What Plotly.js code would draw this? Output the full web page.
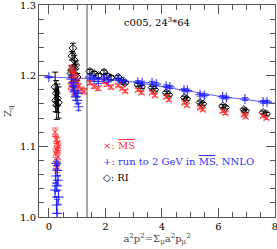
<!DOCTYPE html>
<html><head><meta charset="utf-8">
<script src="https://cdn.plot.ly/plotly-3.0.1.min.js"></script>
<style>body{margin:0;background:#fff}</style>
</head><body><div id="plot" style="width:277px;height:249px"></div>
<script>
// RI (black diamonds)
var riX = [0.22,0.26,0.30,0.34,0.28,0.24,
  0.80,0.85,0.90,0.95,0.78,1.00,0.88,0.82,0.92,
  1.45,1.60,1.75,1.95,2.05,2.20,2.45,2.60,2.70,3.15,3.28,3.65,3.75,4.15,4.25,4.80,4.88,5.35,5.45,6.15,6.25,6.90,6.96,7.58,7.70];
var riY = [1.184,1.175,1.168,1.162,1.158,1.165,
  1.208,1.239,1.222,1.215,1.203,1.198,1.190,1.228,1.210,
  1.206,1.203,1.200,1.205,1.200,1.197,1.198,1.192,1.190,1.187,1.184,1.183,1.180,1.176,1.173,1.169,1.167,1.162,1.160,1.157,1.155,1.152,1.150,1.148,1.146];
var riErr = [0.021,0.018,0.02,0.022,0.02,0.016,
  0.006,0.007,0.007,0.006,0.005,0.005,0.005,0.006,0.006,
  0.003,0.003,0.003,0.003,0.003,0.003,0.002,0.002,0.002,0.002,0.002,0.002,0.002,0.002,0.002,0.002,0.002,0.002,0.002,0.002,0.002,0.002,0.002,0.002,0.002];

// MS-bar (red crosses)
var msX = [0.22,0.26,0.30,0.34,0.28,0.24,0.32,0.27,0.29,
  0.80,0.85,0.90,0.95,1.00,0.78,0.88,0.92,1.05,0.83,1.15,1.25,
  1.45,1.60,1.75,1.95,2.05,2.20,2.45,2.60,2.70,3.15,3.28,3.65,3.75,4.15,4.25,4.80,4.88,5.35,5.45,6.15,6.25,6.90,6.96,7.58,7.70];
var msY = [1.120,1.110,1.105,1.100,1.095,1.090,1.085,1.075,1.070,
  1.210,1.205,1.200,1.195,1.190,1.185,1.180,1.175,1.185,1.195,1.180,1.178,
  1.190,1.185,1.182,1.192,1.188,1.184,1.186,1.182,1.178,1.180,1.176,1.176,1.172,1.170,1.166,1.162,1.158,1.155,1.152,1.150,1.147,1.145,1.142,1.143,1.140];
var msErr = [0.006,0.006,0.007,0.006,0.005,0.006,0.007,0.006,0.007,
  0.005,0.005,0.005,0.005,0.005,0.005,0.004,0.004,0.004,0.004,0.004,0.004,
  0.003,0.003,0.003,0.003,0.003,0.003,0.002,0.002,0.002,0.002,0.002,0.002,0.002,0.002,0.002,0.002,0.002,0.002,0.002,0.002,0.002,0.002,0.002,0.002,0.002];

// run to 2 GeV in MS-bar, NNLO (blue plus); first point is the p^2=0 value
var runX = [0.00,
  0.26,0.30,0.24,0.32,0.28,0.22,0.34,0.27,0.29,
  0.80,0.85,0.90,0.95,1.00,1.05,0.88,1.02,
  1.45,1.60,1.75,1.95,2.10,2.45,2.65,3.15,3.30,3.65,3.80,4.15,4.28,4.78,4.90,5.35,5.50,6.15,6.28,6.94,7.58,7.72];
var runY = [1.198,
  1.076,1.066,1.058,1.052,1.044,1.038,1.028,1.017,1.005,
  1.195,1.185,1.178,1.170,1.165,1.156,1.190,1.175,
  1.198,1.195,1.192,1.197,1.194,1.195,1.192,1.191,1.190,1.190,1.188,1.185,1.184,1.180,1.179,1.173,1.172,1.170,1.169,1.167,1.163,1.163];
var runErr = [0.001,
  0.003,0.008,0.010,0.007,0.008,0.010,0.010,0.012,0.020,
  0.005,0.005,0.005,0.005,0.005,0.005,0.004,0.004,
  0.003,0.003,0.003,0.003,0.003,0.002,0.002,0.002,0.002,0.002,0.002,0.002,0.002,0.002,0.002,0.002,0.002,0.002,0.002,0.002,0.002,0.002];

// blue line (extrapolation curve)
var fitX = [0, 1, 2, 3, 4, 5, 6, 7, 8];
var fitY = [1.198, 1.196, 1.195, 1.191, 1.185, 1.178, 1.171, 1.166, 1.161];

var cutX = 1.35;
var xTicks = [0, 2, 4, 6, 8];
var yTicks = [1.0, 1.1, 1.2, 1.3];

var F = "DejaVu Serif, serif";
var red = "rgba(255,40,40,0.75)", blue = "rgba(30,30,255,0.85)";

var traces = [
  {x: fitX, y: fitY, mode: "lines", line: {color: "rgba(80,80,255,0.9)", width: 1}, hoverinfo: "skip"},
  {x: riX, y: riY, mode: "markers", marker: {symbol: "diamond-open", size: 6, color: "#000", line: {width: 1}},
   error_y: {type: "data", array: riErr, color: "#000", thickness: 1, width: 3}},
  {x: msX, y: msY, mode: "markers", marker: {symbol: "x-thin-open", size: 6, color: red, line: {width: 1.2, color: red}},
   error_y: {type: "data", array: msErr, color: red, thickness: 1, width: 3}},
  {x: runX, y: runY, mode: "markers", marker: {symbol: "cross-thin-open", size: 7, color: blue, line: {width: 1.2, color: blue}},
   error_y: {type: "data", array: runErr, color: blue, thickness: 1, width: 3}}
];

var axCommon = {showgrid: false, zeroline: false, showline: true, linecolor: "#555", linewidth: 1,
  mirror: "allticks", ticks: "inside", ticklen: 9, tickcolor: "#555", ticklabeloverflow: "allow",
  tickfont: {family: F, size: 10, color: "#000"}};

var layout = {
  width: 277, height: 249, showlegend: false,
  paper_bgcolor: "#fff", plot_bgcolor: "#fff",
  margin: {l: 39, r: 2, t: 5, b: 32},
  xaxis: Object.assign({}, axCommon, {range: [-0.35, 8.002], tickvals: xTicks, ticktext: xTicks.map(String),
    minor: {dtick: 0.5, tick0: 0, ticks: "inside", ticklen: 5, tickcolor: "#555"},
    title: {text: "a<sup>2</sup>p<sup>2</sup>=Σ<sub>μ</sub>a<sup>2</sup>p<sub>μ</sub><sup>2</sup>", font: {family: F, size: 10}, standoff: 2}}),
  yaxis: Object.assign({}, axCommon, {range: [1.0, 1.3], tickvals: yTicks, ticktext: ["1.0","1.1","1.2","1.3"],
    minor: {dtick: 0.02, tick0: 1.0, ticks: "inside", ticklen: 5, tickcolor: "#555"},
    title: {text: "Z<sub>q</sub>", font: {family: F, size: 10}, standoff: 6}}),
  shapes: [{type: "line", xref: "x", yref: "paper", x0: cutX, x1: cutX, y0: 0, y1: 1, line: {color: "#555", width: 1}}],
  annotations: [
    {xref: "paper", yref: "paper", x: 0.5, y: 0.92, xanchor: "center", yanchor: "middle", showarrow: false,
     text: "c005, 24<sup>3</sup>*64", font: {family: F, size: 10, color: "#000"}},
    {xref: "paper", yref: "paper", x: 0.262, y: 0.335, xanchor: "left", yanchor: "middle", showarrow: false,
     text: "×: <span style='text-decoration:overline'>MS</span>", font: {family: F, size: 10, color: "#ff3030"}},
    {xref: "paper", yref: "paper", x: 0.262, y: 0.26, xanchor: "left", yanchor: "middle", showarrow: false,
     text: "+: run to 2 GeV in <span style='text-decoration:overline'>MS</span>, NNLO", font: {family: F, size: 10, color: "#3030ff"}},
    {xref: "paper", yref: "paper", x: 0.262, y: 0.184, xanchor: "left", yanchor: "middle", showarrow: false,
     text: "◇: RI", font: {family: F, size: 10, color: "#000"}}
  ]
};
Plotly.newPlot("plot", traces, layout, {staticPlot: true, displayModeBar: false});
</script></body></html>
